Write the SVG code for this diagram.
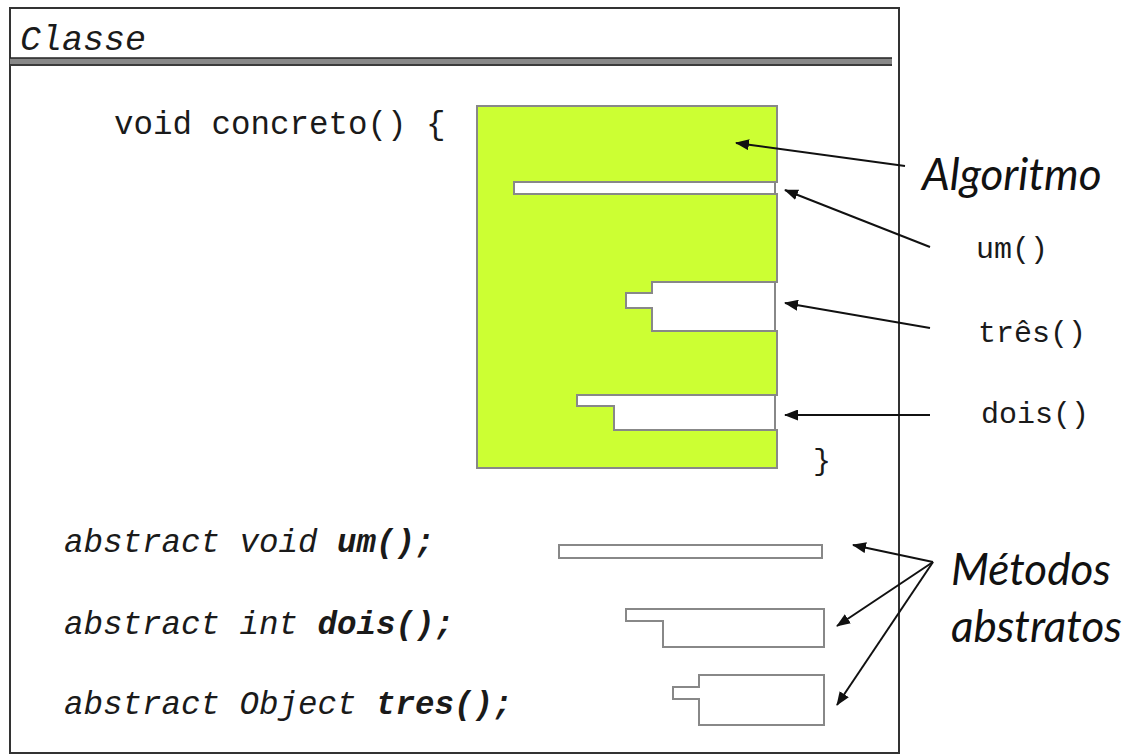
<svg xmlns="http://www.w3.org/2000/svg" width="1124" height="755" viewBox="0 0 1124 755">
<style>
.code{font-family:"Liberation Mono","Courier New",monospace;fill:#1a1a1a}
.it{font-style:italic}
.b{font-weight:bold}
.lbl{font-family:"Lato","Open Sans",sans-serif;font-style:italic;fill:#111}
.slot{fill:#fff;stroke:#888;stroke-width:2}
.arrow{stroke:#111;stroke-width:2;fill:none;marker-end:url(#ah)}
</style>
<defs>
<marker id="ah" viewBox="0 0 14 11" refX="13" refY="5.5" markerWidth="14" markerHeight="11" markerUnits="userSpaceOnUse" orient="auto">
<path d="M0,0 L14,5.5 L0,11 Z" fill="#111"/>
</marker>
</defs>
<rect width="1124" height="755" fill="#fff"/>
<g id="classe">
<rect x="10" y="8" width="889" height="745" fill="none" stroke="#333" stroke-width="2"/>
<rect x="10" y="58" width="882" height="8" fill="#888"/>
<line x1="10" y1="58" x2="892" y2="58" stroke="#222" stroke-width="1.5"/>
<line x1="10" y1="65" x2="892" y2="65" stroke="#222" stroke-width="1.5"/>
<text class="code it" x="20" y="50" font-size="35">Classe</text>
</g>
<g id="concreto">
<text class="code" x="114" y="134" font-size="32.5" xml:space="preserve">void concreto() {</text>
<path d="M477,106 H777 V182 H514 V194 H777 V282 H652 V293 H626 V308 H652 V331 H777 V395 H577 V406 H614 V430 H777 V468 H477 Z" fill="#ccff33" stroke="#888" stroke-width="2"/>
<path class="slot" d="M514,182 H775 V194 H514 Z"/>
<path class="slot" d="M652,282 H775 V331 H652 V308 H626 V293 H652 Z"/>
<path class="slot" d="M577,395 H775 V430 H614 V406 H577 Z"/>
<text class="code" x="813" y="470" font-size="30">}</text>
</g>
<g id="abstratos">
<text class="code it" x="64" y="552" font-size="32.5">abstract void <tspan class="b">um();</tspan></text>
<text class="code it" x="64" y="634" font-size="32.5">abstract int <tspan class="b">dois();</tspan></text>
<text class="code it" x="64" y="714" font-size="32.5">abstract Object <tspan class="b">tres();</tspan></text>
<path class="slot" d="M559,545 H822 V558 H559 Z"/>
<path class="slot" d="M626,609 H824 V647 H663 V621 H626 Z"/>
<path class="slot" d="M699,675 H824 V725 H699 V699 H673 V687 H699 Z"/>
</g>
<g id="labels">
<text class="lbl" x="922" y="190" font-size="44">Algoritmo</text>
<text class="code" x="976" y="258" font-size="30">um()</text>
<text class="code" x="978" y="342" font-size="30">três()</text>
<text class="code" x="981" y="423" font-size="30">dois()</text>
<text class="lbl" x="951" y="585" font-size="44">Métodos</text>
<text class="lbl" x="951" y="642" font-size="44">abstratos</text>
</g>
<g id="connectors">
<line class="arrow" x1="905" y1="166" x2="736" y2="143"/>
<line class="arrow" x1="930" y1="247" x2="785" y2="190"/>
<line class="arrow" x1="930" y1="328" x2="785" y2="303"/>
<line class="arrow" x1="930" y1="415" x2="785" y2="415"/>
<line class="arrow" x1="933" y1="562" x2="853" y2="545"/>
<line class="arrow" x1="933" y1="562" x2="837" y2="626"/>
<line class="arrow" x1="933" y1="562" x2="837" y2="705"/>
</g>
</svg>
